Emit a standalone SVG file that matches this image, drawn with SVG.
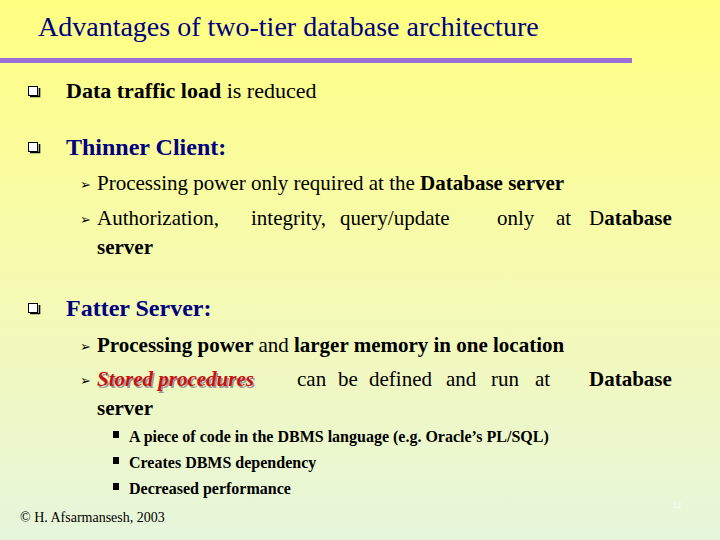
<svg xmlns="http://www.w3.org/2000/svg" width="720" height="540" viewBox="0 0 720 540">
<style>
.b{font-weight:bold}
.h{font-size:24px;font-weight:bold;fill:#000080}
.l1{font-size:22px}
.l2{font-size:21px}
.l3{font-size:16px;font-weight:bold}
.arr{font-family:"DejaVu Sans",sans-serif;font-size:13px}
</style>
<defs>
<linearGradient id="bg" x1="0" y1="0" x2="0" y2="1">
<stop offset="0" stop-color="#ffff80"/>
<stop offset="0.5" stop-color="#f6fab0"/>
<stop offset="1" stop-color="#e6f6dc"/>
</linearGradient>
<g id="qb"><rect x="0.5" y="0.5" width="9" height="9" fill="#fff" stroke="#000" stroke-width="1"/><path d="M2 10.5h9.5V2" fill="none" stroke="#000" stroke-width="1.6"/></g>
</defs>
<rect width="720" height="540" fill="url(#bg)"/>
<rect x="0" y="58" width="632" height="5" fill="#9a70d6"/>
<g id="slide" font-family="Liberation Serif, DejaVu Serif, serif" fill="#000">
<text x="38" y="36" font-size="28" fill="#000080">Advantages of two-tier database architecture</text>

<use href="#qb" x="28" y="86"/>
<text x="66" y="98" class="l1"><tspan class="b">Data traffic load</tspan> is reduced</text>

<use href="#qb" x="28" y="142"/>
<text x="66" y="155" class="h">Thinner Client:</text>
<text x="80" y="189" class="arr">➢</text>
<text x="97" y="190" class="l2">Processing power only required at the <tspan class="b">Database server</tspan></text>
<text x="80" y="224" class="arr">➢</text>
<text y="225" class="l2"><tspan x="97">Authorization,</tspan><tspan x="251">integrity,</tspan><tspan x="340">query/update</tspan><tspan x="497">only</tspan><tspan x="556">at</tspan><tspan x="589">D</tspan><tspan class="b">atabase</tspan></text>
<text x="97" y="254" class="l2 b">server</text>

<use href="#qb" x="28" y="303"/>
<text x="66" y="316" class="h">Fatter Server:</text>
<text x="80" y="351" class="arr">➢</text>
<text x="97" y="352" class="l2 b">Processing power <tspan font-weight="normal">and</tspan> larger memory in one location</text>
<text x="80" y="385" class="arr">➢</text>
<text x="98.5" y="387.5" class="l2" font-weight="bold" font-style="italic" fill="#9a9a9a">Stored procedures</text>
<text y="386" class="l2"><tspan x="97" font-weight="bold" font-style="italic" fill="#cc1010">Stored procedures</tspan><tspan x="297">can</tspan><tspan x="338">be</tspan><tspan x="369">defined</tspan><tspan x="446">and</tspan><tspan x="491">run</tspan><tspan x="535">at</tspan><tspan x="589" class="b">Database</tspan></text>
<text x="97" y="415" class="l2 b">server</text>

<rect x="113" y="431" width="6" height="7" fill="#000"/>
<text x="129" y="442" class="l3">A piece of code in the DBMS language (e.g. Oracle’s PL/SQL)</text>
<rect x="113" y="457" width="6" height="7" fill="#000"/>
<text x="129" y="468" class="l3">Creates DBMS dependency</text>
<rect x="113" y="483" width="6" height="7" fill="#000"/>
<text x="129" y="494" class="l3">Decreased performance</text>

<text x="20" y="522" font-size="14">© H. Afsarmansesh, 2003</text>
<text x="673" y="508" font-size="8" fill="#ffffff">12</text>
</g>
</svg>
